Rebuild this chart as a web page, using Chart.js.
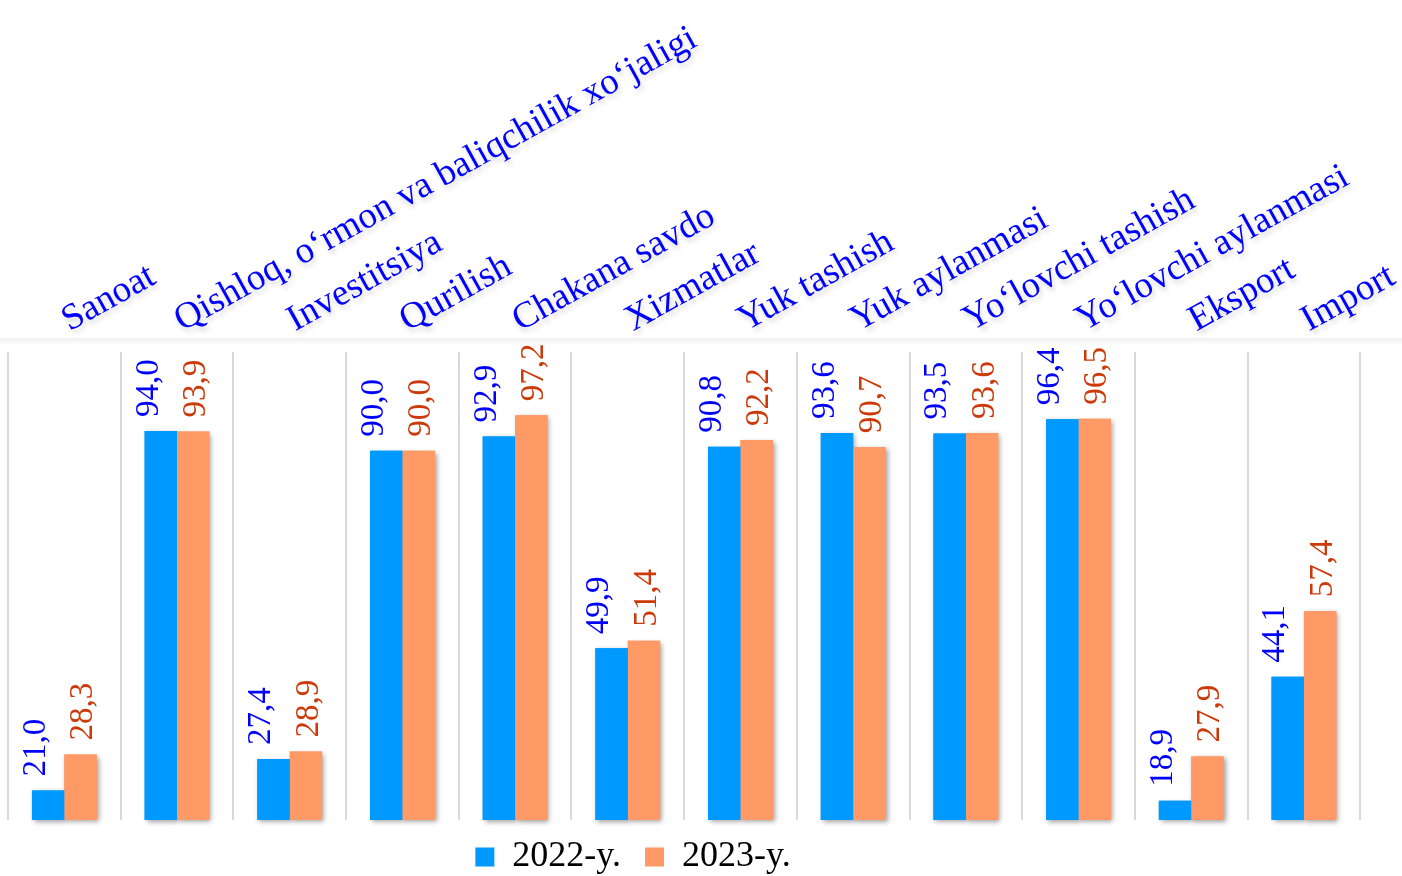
<!DOCTYPE html>
<html>
<head>
<meta charset="utf-8">
<script src="https://cdn.jsdelivr.net/npm/chart.js@4.4.1/dist/chart.umd.min.js"></script>
<style>
  html, body { margin: 0; padding: 0; background: #ffffff; }
  #wrap { width: 1402px; height: 876px; position: relative; }
</style>
</head>
<body>
<div id="wrap"><canvas id="c"></canvas></div>
<script>
const categories = [
  "Sanoat",
  "Qishloq, o\u2018rmon va baliqchilik xo\u2018jaligi",
  "Investitsiya",
  "Qurilish",
  "Chakana savdo",
  "Xizmatlar",
  "Yuk tashish",
  "Yuk aylanmasi",
  "Yo\u2018lovchi tashish",
  "Yo\u2018lovchi aylanmasi",
  "Eksport",
  "Import"
];
const seriesNames = ["2022-y.", "2023-y."];
const values2022 = [21.0, 94.0, 27.4, 90.0, 92.9, 49.9, 90.8, 93.6, 93.5, 96.4, 18.9, 44.1];
const values2023 = [28.3, 93.9, 28.9, 90.0, 97.2, 51.4, 92.2, 90.7, 93.6, 96.5, 27.9, 57.4];
const axisMin = 15;
const axisMax = 110;

const SERIF = "'Liberation Serif', 'Times New Roman', serif";
const barColors = ["#0099FF", "#FF9966"];
const labelColors = ["#0000FF", "#CC3A0A"];
const labelDx = [-12, 3];
const labelGap = 14;
const legendShiftX = -72;
const legendShiftY = -5;

const shadowPlugin = {
  id: 'barShadow',
  beforeDatasetsDraw(chart) {
    const ctx = chart.ctx;
    ctx.save();
    ctx.shadowColor = 'rgba(0,0,0,0.38)';
    ctx.shadowBlur = 5;
    ctx.shadowOffsetX = 2;
    ctx.shadowOffsetY = 2;
    chart.data.datasets.forEach((ds, i) => {
      chart.getDatasetMeta(i).data.forEach(el => el.draw(ctx));
    });
    ctx.restore();
  }
};

const valueLabelPlugin = {
  id: 'valueLabels',
  afterDatasetsDraw(chart) {
    const ctx = chart.ctx;
    chart.data.datasets.forEach((ds, i) => {
      const meta = chart.getDatasetMeta(i);
      meta.data.forEach((bar, j) => {
        const txt = ds.data[j].toFixed(1).replace('.', ',');
        ctx.save();
        ctx.translate(bar.x + labelDx[i], bar.y - labelGap);
        ctx.rotate(-Math.PI / 2);
        ctx.font = "33px " + SERIF;
        ctx.fillStyle = labelColors[i];
        ctx.textAlign = 'left';
        ctx.textBaseline = 'middle';
        ctx.fillText(txt, 0, 0);
        ctx.restore();
      });
    });
  }
};

const decorPlugin = {
  id: 'decor',
  beforeDraw(chart) {
    const ctx = chart.ctx;
    const top = chart.chartArea.top;
    ctx.save();
    ctx.fillStyle = '#ffffff';
    ctx.shadowColor = 'rgba(0,0,0,0.10)';
    ctx.shadowBlur = 6;
    ctx.shadowOffsetY = 2;
    ctx.fillRect(-10, -10, chart.width + 20, top - 4);
    ctx.restore();
    const sx = chart.scales.x;
    if (!sx._shadowPatched) {
      const orig = sx.drawLabels;
      sx.drawLabels = function(area) {
        const c = this.ctx;
        c.save();
        c.shadowColor = 'rgba(0,0,0,0.16)';
        c.shadowBlur = 5;
        c.shadowOffsetX = 2;
        c.shadowOffsetY = 4;
        orig.call(this, area);
        c.restore();
      };
      sx._shadowPatched = true;
    }
  },
  afterLayout(chart) {
    const lg = chart.legend;
    if (lg) {
      lg.left += legendShiftX;
      lg.right += legendShiftX;
      lg.top += legendShiftY;
      lg.bottom += legendShiftY;
    }
  }
};

new Chart(document.getElementById('c'), {
  type: 'bar',
  data: {
    labels: categories,
    datasets: [
      { label: seriesNames[0], data: values2022, backgroundColor: barColors[0], base: axisMin,
        categoryPercentage: 0.575, barPercentage: 1.0 },
      { label: seriesNames[1], data: values2023, backgroundColor: barColors[1], base: axisMin,
        categoryPercentage: 0.575, barPercentage: 1.0 }
    ]
  },
  options: {
    responsive: true,
    maintainAspectRatio: false,
    animation: false,
    layout: { padding: { left: 8, right: 0, top: 7, bottom: -14 } },
    plugins: {
      legend: {
        position: 'bottom',
        labels: {
          font: { family: SERIF, size: 36 },
          color: '#000000',
          boxWidth: 19,
          boxHeight: 19,
          padding: 24
        }
      },
      tooltip: { enabled: false }
    },
    scales: {
      x: {
        position: 'top',
        offset: true,
        grid: { display: true, offset: true, color: '#D9D9D9', lineWidth: 2, drawTicks: false },
        border: { display: false },
        ticks: {
          autoSkip: false,
          minRotation: 29,
          maxRotation: 29,
          padding: 10,
          labelOffset: 22,
          color: '#0000FF',
          font: { family: SERIF, size: 37 }
        }
      },
      y: {
        display: false,
        min: axisMin,
        max: axisMax
      }
    }
  },
  plugins: [shadowPlugin, valueLabelPlugin, decorPlugin]
});
</script>
</body>
</html>
